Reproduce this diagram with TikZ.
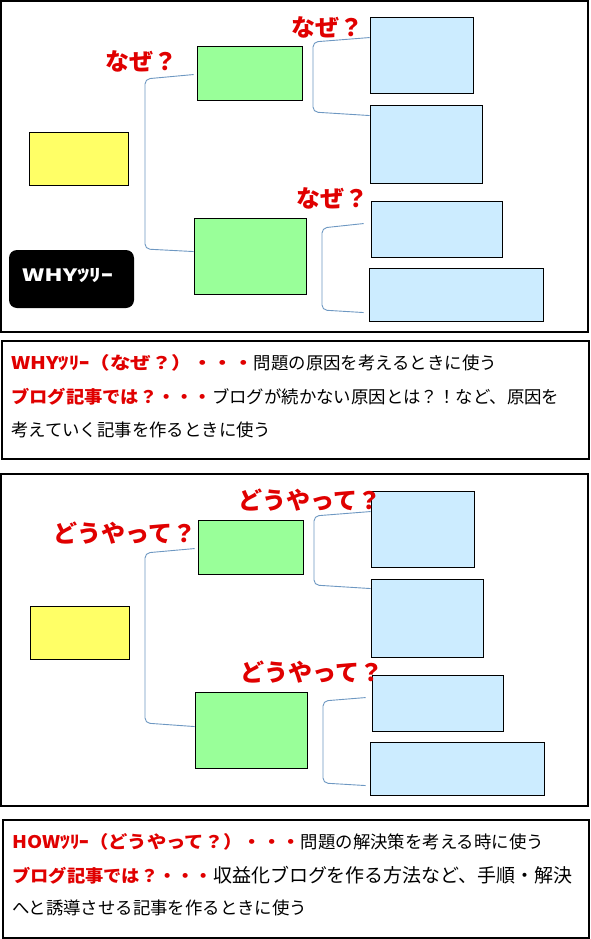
\documentclass[tikz,border=0pt]{standalone}
\usepackage{fontspec}
\usepackage{graphicx}
\setmainfont{Noto Sans CJK JP}
\usetikzlibrary{fit,calc}
\definecolor{lred}{HTML}{E00000}
\definecolor{yfill}{HTML}{FFFF66}
\definecolor{gfill}{HTML}{99FF99}
\definecolor{bfill}{HTML}{CCECFF}
\definecolor{brcol}{HTML}{6E98C2}
\tikzset{
  box/.style={draw=black, line width=0.9pt, inner sep=0pt},
  ybox/.style={box, fill=yfill},
  gbox/.style={box, fill=gfill},
  bbox/.style={box, fill=bfill},
  frame/.style={draw=black, line width=1.1pt, inner sep=0pt},
  brk/.style={draw=brcol, line width=0.9pt, rounded corners=5pt},
  qlabel/.style={text=lred, inner sep=0pt, font=\fontsize{24}{28}\selectfont\bfseries},
  line/.style={anchor=west, inner sep=0pt, font=\fontsize{17.4}{20}\selectfont},
  wbox/.style={fill=black, rounded corners=8pt, inner sep=0pt},
}
\newcommand\rd[2]{\textcolor{lred}{\bfseries\scalebox{#1}[1]{#2}}}
\begin{document}
\begin{tikzpicture}[x=1pt,y=-1pt]
\useasboundingbox (0,0) rectangle (591,939);
\fill[white] (0,0) rectangle (591,939);
% ---------- top panel ----------
\node[frame, fit={(1,1) (588,332)}] (P1) {};
\node[ybox, fit={(29,132) (128,185)}] (y1) {};
\node[gbox, fit={(197,46) (302,100)}] (g1) {};
\node[gbox, fit={(194,218) (306,294)}] (g2) {};
\node[bbox, fit={(370,17) (473,93)}] (b1) {};
\node[bbox, fit={(370,105) (482,183)}] (b2) {};
\node[bbox, fit={(371,201) (502,257)}] (b3) {};
\node[bbox, fit={(369,268) (543,321)}] (b4) {};
\node[wbox, fit={(9,250) (134,308)}] (w1) {};
\node[anchor=west, inner sep=0pt, text=white, font=\fontsize{17}{20}\selectfont\bfseries] (w1t) at (22,276) {\scalebox{1.4}[1]{WHYﾂﾘｰ}};
\node[qlabel] (q1) at (141,61) {なぜ？};
\node[qlabel] (q2) at (327,27) {なぜ？};
\node[qlabel] (q3) at (332,198) {なぜ？};
\draw[brk] ($(g1.north west)+(-3,29)$) -- (145,79) -- (145,249) -- ($(g2.north west)+(0,34)$);
\draw[brk] ($(b1.north west)+(0,21)$) -- (313,42) -- (313,112) -- ($(b2.north west)+(0,11)$);
\draw[brk] ($(b3.north west)+(-7,23)$) -- (322,228) -- (322,310) -- ($(b4.north west)+(-5,45)$);
% ---------- text box 1 ----------
\node[frame, fit={(2,341) (589,459)}] (T1) {};
\node[line] (t1a) at (11,363) {\rd{1.18}{WHYﾂﾘｰ（なぜ？）・・・}問題の原因を考えるときに使う};
\node[line] (t1b) at (11,397) {\rd{1.05}{ブログ記事では？・・・}ブログが続かない原因とは？！など、原因を};
\node[line] (t1c) at (11,430) {考えていく記事を作るときに使う};
% ---------- bottom panel ----------
\node[frame, fit={(1,474) (588,806)}] (P2) {};
\node[ybox, fit={(30,606) (129,659)}] (y2) {};
\node[gbox, fit={(198,520) (303,574)}] (g3) {};
\node[gbox, fit={(195,692) (307,768)}] (g4) {};
\node[bbox, fit={(371,491) (474,567)}] (b5) {};
\node[bbox, fit={(371,579) (483,657)}] (b6) {};
\node[bbox, fit={(372,675) (503,731)}] (b7) {};
\node[bbox, fit={(370,742) (544,795)}] (b8) {};
\node[qlabel] (q4) at (125,533) {どうやって？};
\node[qlabel] (q5) at (310,500) {どうやって？};
\node[qlabel] (q6) at (312,672) {どうやって？};
\draw[brk] ($(g3.north west)+(-3,29)$) -- (145,553) -- (145,723) -- ($(g4.north west)+(0,35)$);
\draw[brk] ($(b5.north west)+(0,21)$) -- (314,516) -- (314,585) -- ($(b6.north west)+(0,10)$);
\draw[brk] ($(b7.north west)+(-6,23)$) -- (323,701) -- (323,783) -- ($(b8.north west)+(-4,44)$);
% ---------- text box 2 ----------
\node[frame, fit={(3,820) (589,938)}] (T2) {};
\node[line] (t2a) at (12,842) {\rd{1.11}{HOWﾂﾘｰ（どうやって？）・・・}問題の解決策を考える時に使う};
\node[line] (t2b) at (12,875) {\rd{1.05}{ブログ記事では？・・・}\scalebox{1.09}{収益化ブログを作る方法など、手順・解決}};
\node[line] (t2c) at (12,908) {へと誘導させる記事を作るときに使う};
\end{tikzpicture}
\end{document}
